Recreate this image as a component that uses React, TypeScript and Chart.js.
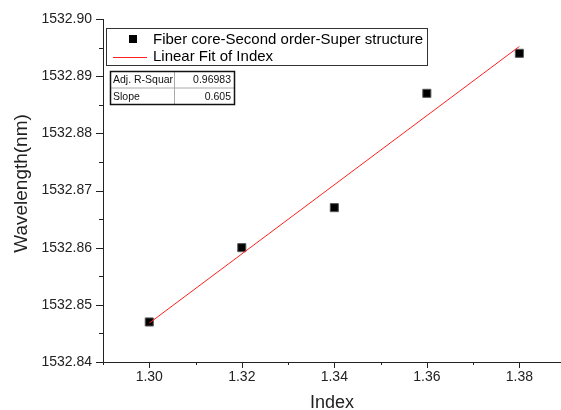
import React, { useEffect, useRef } from 'react';
import { Chart, registerables } from 'chart.js';

Chart.register(...registerables);

// ---- data ----
const indexValues = [1.3, 1.32, 1.34, 1.36, 1.38];
const wavelengthValues = [1532.847, 1532.86, 1532.867, 1532.887, 1532.894];
const fitIndex = [1.3, 1.38];
const fitWavelength = [1532.8468, 1532.8952];

const xMajorTicks = [1.3, 1.32, 1.34, 1.36, 1.38];
const xMajorLabels = ['1.30', '1.32', '1.34', '1.36', '1.38'];
const xMinorTicks = [1.29, 1.31, 1.33, 1.35, 1.37];
const xRange = [1.29, 1.389];

const yMajorTicks = [1532.84, 1532.85, 1532.86, 1532.87, 1532.88, 1532.89, 1532.9];
const yMajorLabels = ['1532.84', '1532.85', '1532.86', '1532.87', '1532.88', '1532.89', '1532.90'];
const yMinorTicks = [1532.845, 1532.855, 1532.865, 1532.875, 1532.885, 1532.895];
const yRange = [1532.84, 1532.9];

const seriesLabels = ['Fiber core-Second order-Super structure', 'Linear Fit of Index'];
const statNames = ['Adj. R-Squar', 'Slope'];
const statValues = ['0.96983', '0.605'];
const axisTitles = ['Index', 'Wavelength(nm)'];

// ---- style ----
const FONT = "'Liberation Sans', Arial, Helvetica, sans-serif";
const AXIS = '#222';
const RED = '#ff2020';

function labelFor(v: number, majors: number[], labels: string[]) {
  for (let i = 0; i < majors.length; i++) {
    if (Math.abs(majors[i] - v) < 1e-7) return labels[i];
  }
  return '';
}

const overlayPlugin = {
  id: 'overlay',
  afterDraw(chart: any) {
    const ctx = chart.ctx as CanvasRenderingContext2D;
    const xs = chart.scales.x;
    const ys = chart.scales.y;
    const ca = chart.chartArea;
    ctx.save();
    ctx.strokeStyle = AXIS;
    ctx.lineWidth = 1;
    // tick marks
    const tickX = (v: number, len: number) => {
      const p = Math.round(xs.getPixelForValue(v)) + 0.5;
      ctx.beginPath();
      ctx.moveTo(p, Math.round(ca.bottom));
      ctx.lineTo(p, Math.round(ca.bottom) + len);
      ctx.stroke();
    };
    const tickY = (v: number, len: number) => {
      const p = Math.round(ys.getPixelForValue(v)) + 0.5;
      ctx.beginPath();
      ctx.moveTo(Math.round(ca.left), p);
      ctx.lineTo(Math.round(ca.left) - len, p);
      ctx.stroke();
    };
    xMajorTicks.forEach((v) => tickX(v, 6));
    xMinorTicks.forEach((v) => tickX(v, 3));
    yMajorTicks.forEach((v) => tickY(v, 7));
    yMinorTicks.forEach((v) => tickY(v, 4));

    // y axis title
    ctx.save();
    ctx.translate(22, (ca.top + ca.bottom) / 2 - 7);
    ctx.rotate(-Math.PI / 2);
    ctx.fillStyle = '#222';
    ctx.font = `19px ${FONT}`;
    ctx.textAlign = 'center';
    ctx.textBaseline = 'middle';
    ctx.fillText(axisTitles[1], 0, 0);
    ctx.restore();

    // legend box
    const lx = ca.left + 3;
    const ly = ca.top + 9;
    ctx.strokeStyle = '#333';
    ctx.lineWidth = 1;
    ctx.strokeRect(lx + 0.5, ly + 0.5, 321, 37);
    ctx.fillStyle = '#000';
    ctx.fillRect(lx + 23, ly + 7, 8, 8);
    ctx.font = `15px ${FONT}`;
    ctx.textBaseline = 'middle';
    ctx.textAlign = 'left';
    ctx.fillText(seriesLabels[0], lx + 47, ly + 11.5);
    ctx.strokeStyle = RED;
    ctx.beginPath();
    ctx.moveTo(lx + 7, ly + 29.5);
    ctx.lineTo(lx + 41, ly + 29.5);
    ctx.stroke();
    ctx.fillText(seriesLabels[1], lx + 47, ly + 29);

    // stats table
    const tx = ca.left + 7;
    const ty = ca.top + 52;
    const tw = 124;
    const th = 33;
    const colX = tx + 64;
    ctx.strokeStyle = '#aaa';
    ctx.lineWidth = 1;
    ctx.beginPath();
    ctx.moveTo(tx, ty + th / 2 + 0.5);
    ctx.lineTo(tx + tw, ty + th / 2 + 0.5);
    ctx.moveTo(colX + 0.5, ty);
    ctx.lineTo(colX + 0.5, ty + th);
    ctx.stroke();
    ctx.strokeStyle = '#111';
    ctx.lineWidth = 1.5;
    ctx.strokeRect(tx + 0.5, ty + 0.5, tw, th);
    ctx.fillStyle = '#111';
    ctx.font = `10.5px ${FONT}`;
    for (let i = 0; i < statNames.length; i++) {
      const cy = ty + th / 4 + (i * th) / 2 + 1;
      ctx.textAlign = 'left';
      ctx.fillText(statNames[i], tx + 3, cy);
      ctx.textAlign = 'right';
      ctx.fillText(statValues[i], tx + tw - 3, cy);
    }
    ctx.restore();
  },
};

export default function App() {
  const ref = useRef<HTMLCanvasElement | null>(null);
  useEffect(() => {
    document.body.style.margin = '0';
    const canvas = ref.current;
    if (!canvas) return;
    const chart = new Chart(canvas, {
      type: 'scatter',
      data: {
        datasets: [
          {
            label: seriesLabels[0],
            data: indexValues.map((x, i) => ({ x, y: wavelengthValues[i] })),
            pointStyle: 'rect',
            pointRadius: 5.7,
            pointHoverRadius: 5.7,
            backgroundColor: '#000',
            borderColor: '#555',
            borderWidth: 1,
            showLine: false,
            order: 1,
          },
          {
            label: seriesLabels[1],
            type: 'line',
            data: fitIndex.map((x, i) => ({ x, y: fitWavelength[i] })),
            borderColor: RED,
            borderWidth: 1,
            pointRadius: 0,
            showLine: true,
            fill: false,
            order: 0,
          } as any,
        ],
      },
      options: {
        animation: false,
        responsive: false,
        devicePixelRatio: 1,
        layout: { autoPadding: false, padding: { top: 19, right: 0, bottom: 0, left: 0 } },
        plugins: { legend: { display: false }, tooltip: { enabled: false } },
        scales: {
          x: {
            type: 'linear',
            min: xRange[0],
            max: xRange[1],
            bounds: 'data',
            grid: { display: false, drawTicks: true, tickLength: 6 },
            border: { display: true, color: AXIS, width: 1 },
            afterBuildTicks: (s: any) => {
              s.ticks = [...xMajorTicks, ...xMinorTicks].sort((a, b) => a - b).map((value) => ({ value }));
            },
            afterFit: (s: any) => {
              s.height = 48;
              s.paddingLeft = 0;
              s.paddingRight = 0;
            },
            ticks: {
              autoSkip: false,
              maxRotation: 0,
              padding: 1,
              color: '#222',
              font: { family: FONT, size: 14 },
              callback: (v: any) => labelFor(Number(v), xMajorTicks, xMajorLabels),
            },
            title: {
              display: true,
              text: axisTitles[0],
              color: '#222',
              font: { family: FONT, size: 18 },
              padding: { top: 0, bottom: -4 },
            },
          },
          y: {
            type: 'linear',
            min: yRange[0],
            max: yRange[1],
            bounds: 'data',
            grid: { display: false, drawTicks: true, tickLength: 7 },
            border: { display: true, color: AXIS, width: 1 },
            afterBuildTicks: (s: any) => {
              s.ticks = [...yMajorTicks, ...yMinorTicks].sort((a, b) => a - b).map((value) => ({ value }));
            },
            afterFit: (s: any) => {
              s.width = 103;
              s.paddingTop = 0;
              s.paddingBottom = 0;
            },
            ticks: {
              autoSkip: false,
              padding: 4,
              color: '#222',
              font: { family: FONT, size: 14 },
              callback: (v: any) => labelFor(Number(v), yMajorTicks, yMajorLabels),
            },
            title: { display: false },
          },
        },
      },
      plugins: [overlayPlugin],
    });
    return () => chart.destroy();
  }, []);
  return (
    <div style={{ width: 561, height: 410 }}>
      <canvas ref={ref} width={561} height={410} style={{ display: 'block', width: 561, height: 410 }} />
    </div>
  );
}
